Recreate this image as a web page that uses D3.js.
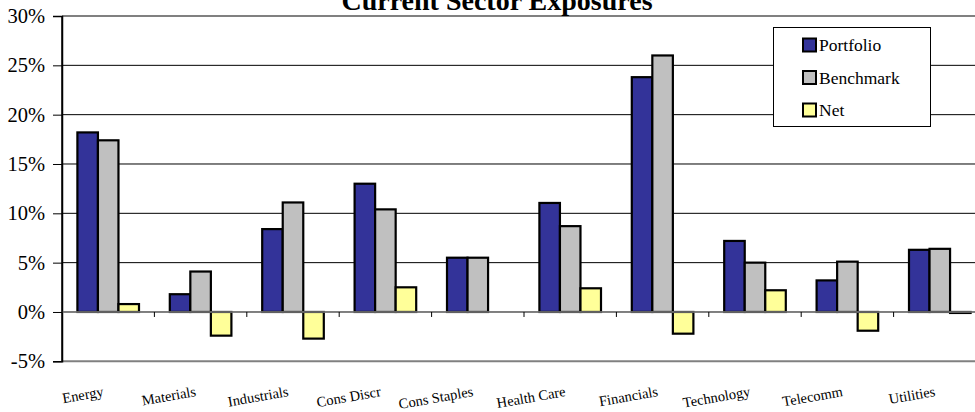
<!DOCTYPE html>
<html>
<head>
<meta charset="utf-8">
<script src="https://cdn.jsdelivr.net/npm/d3@7"></script>
<style>
  html, body { margin: 0; padding: 0; background: #fff; overflow: hidden; }
  svg, svg text { font-family: "Liberation Serif", "Times New Roman", serif; }
  svg { display: block; }
</style>
</head>
<body>
<svg id="chart" width="975" height="412"></svg>
<script>
const categories = ["Energy", "Materials", "Industrials", "Cons Discr", "Cons Staples", "Health Care", "Financials", "Technology", "Telecomm", "Utilities"];
const seriesNames = ["Portfolio", "Benchmark", "Net"];
const portfolio = [18.2, 1.8, 8.4, 13.0, 5.5, 11.05, 23.8, 7.2, 3.2, 6.3];
const benchmark = [17.4, 4.1, 11.1, 10.4, 5.5, 8.7, 26.0, 5.0, 5.1, 6.4];
const net = [0.8, -2.4, -2.7, 2.5, 0.0, 2.4, -2.2, 2.2, -1.9, -0.1];
const yTicks = [-5, 0, 5, 10, 15, 20, 25, 30];
const colors = ["#333399", "#C0C0C0", "#FFFF99"];
const title = "Current Sector Exposures";

const seriesValues = [portfolio, benchmark, net];
const svg = d3.select("#chart");
const serif = "'Liberation Serif', 'Times New Roman', serif";

const plotLeft = 62, plotRight = 986, plotTop = 16, plotBottom = 361.3;

const x = d3.scaleBand().domain(categories).range([plotLeft, plotRight]).paddingInner(0).paddingOuter(0);
const gapRatio = 1.5;
const barW = x.bandwidth() / (3 + gapRatio);
const xs = d3.scaleBand().domain(seriesNames).range([barW * gapRatio / 2, barW * gapRatio / 2 + 3 * barW]);
const y = d3.scaleLinear().domain([-5, 30]).range([plotBottom, plotTop]);

// gridlines
svg.append("g").selectAll("line").data(yTicks).join("line")
  .attr("x1", plotLeft).attr("x2", plotRight)
  .attr("y1", d => y(d)).attr("y2", d => y(d))
  .attr("stroke", d => (d === 30 || d === -5) ? "#808080" : "#000")
  .attr("stroke-width", d => (d === 30 || d === -5) ? 2 : 1);

// y axis
const yAxis = svg.append("g").attr("transform", `translate(${plotLeft},0)`)
  .call(d3.axisLeft(y).tickValues(yTicks).tickFormat(d => d + "%").tickSize(9).tickPadding(8));
yAxis.attr("font-family", null).attr("font-size", null);
yAxis.select(".domain").attr("stroke", "#000").attr("stroke-width", 1.5);
yAxis.selectAll(".tick line").attr("stroke", "#000");
yAxis.selectAll("text").style("font-size", "20.5px").style("font-family", serif).attr("fill", "#000");

// bars
const groups = svg.append("g").selectAll("g").data(seriesNames).join("g")
  .attr("fill", (d, i) => colors[i]);
groups.selectAll("rect").data((s, si) => categories.map((c, ci) => ({ c, s, v: seriesValues[si][ci] })))
  .join("rect")
  .attr("x", d => x(d.c) + xs(d.s))
  .attr("width", xs.bandwidth())
  .attr("y", d => y(Math.max(0, d.v)))
  .attr("height", d => Math.abs(y(d.v) - y(0)))
  .attr("stroke", "#000").attr("stroke-width", 2.2);

// x axis at zero
const xAxis = svg.append("g").attr("transform", `translate(0,${y(0)})`);
xAxis.append("line").attr("x1", plotLeft).attr("x2", plotRight).attr("y1", 0).attr("y2", 0)
  .attr("stroke", "#808080").attr("stroke-width", 1.5);
xAxis.selectAll("line.tk").data(categories.slice(1)).join("line").attr("class", "tk")
  .attr("x1", d => x(d)).attr("x2", d => x(d)).attr("y1", 0).attr("y2", 5)
  .attr("stroke", "#000");
// category labels
svg.append("g").selectAll("text").data(categories).join("text")
  .attr("transform", d => `translate(${x(d) + x.bandwidth() / 2 - 4},396) rotate(-10)`)
  .attr("text-anchor", "end")
  .style("font-size", "14.5px").style("font-family", serif)
  .text(d => d);

// y axis line on top
svg.append("line").attr("x1", plotLeft).attr("x2", plotLeft).attr("y1", plotTop).attr("y2", plotBottom)
  .attr("stroke", "#000").attr("stroke-width", 1.5);

// title
svg.append("text").attr("x", 497).attr("y", 10).attr("text-anchor", "middle")
  .style("font-size", "28px").style("font-family", serif).attr("font-weight", "bold").text(title);

// legend
const lg = svg.append("g");
lg.append("rect").attr("x", 773.5).attr("y", 27.5).attr("width", 157).attr("height", 99)
  .attr("fill", "#fff").attr("stroke", "#000");
const li = lg.selectAll("g").data(seriesNames).join("g")
  .attr("transform", (d, i) => `translate(803,${45 + i * 32.5})`);
li.append("rect").attr("x", 0).attr("y", -6.5).attr("width", 13).attr("height", 13)
  .attr("fill", (d, i) => colors[i]).attr("stroke", "#000").attr("stroke-width", 2);
li.append("text").attr("x", 16).attr("y", 6).style("font-size", "17.5px").style("font-family", serif).text(d => d);
</script>
</body>
</html>
